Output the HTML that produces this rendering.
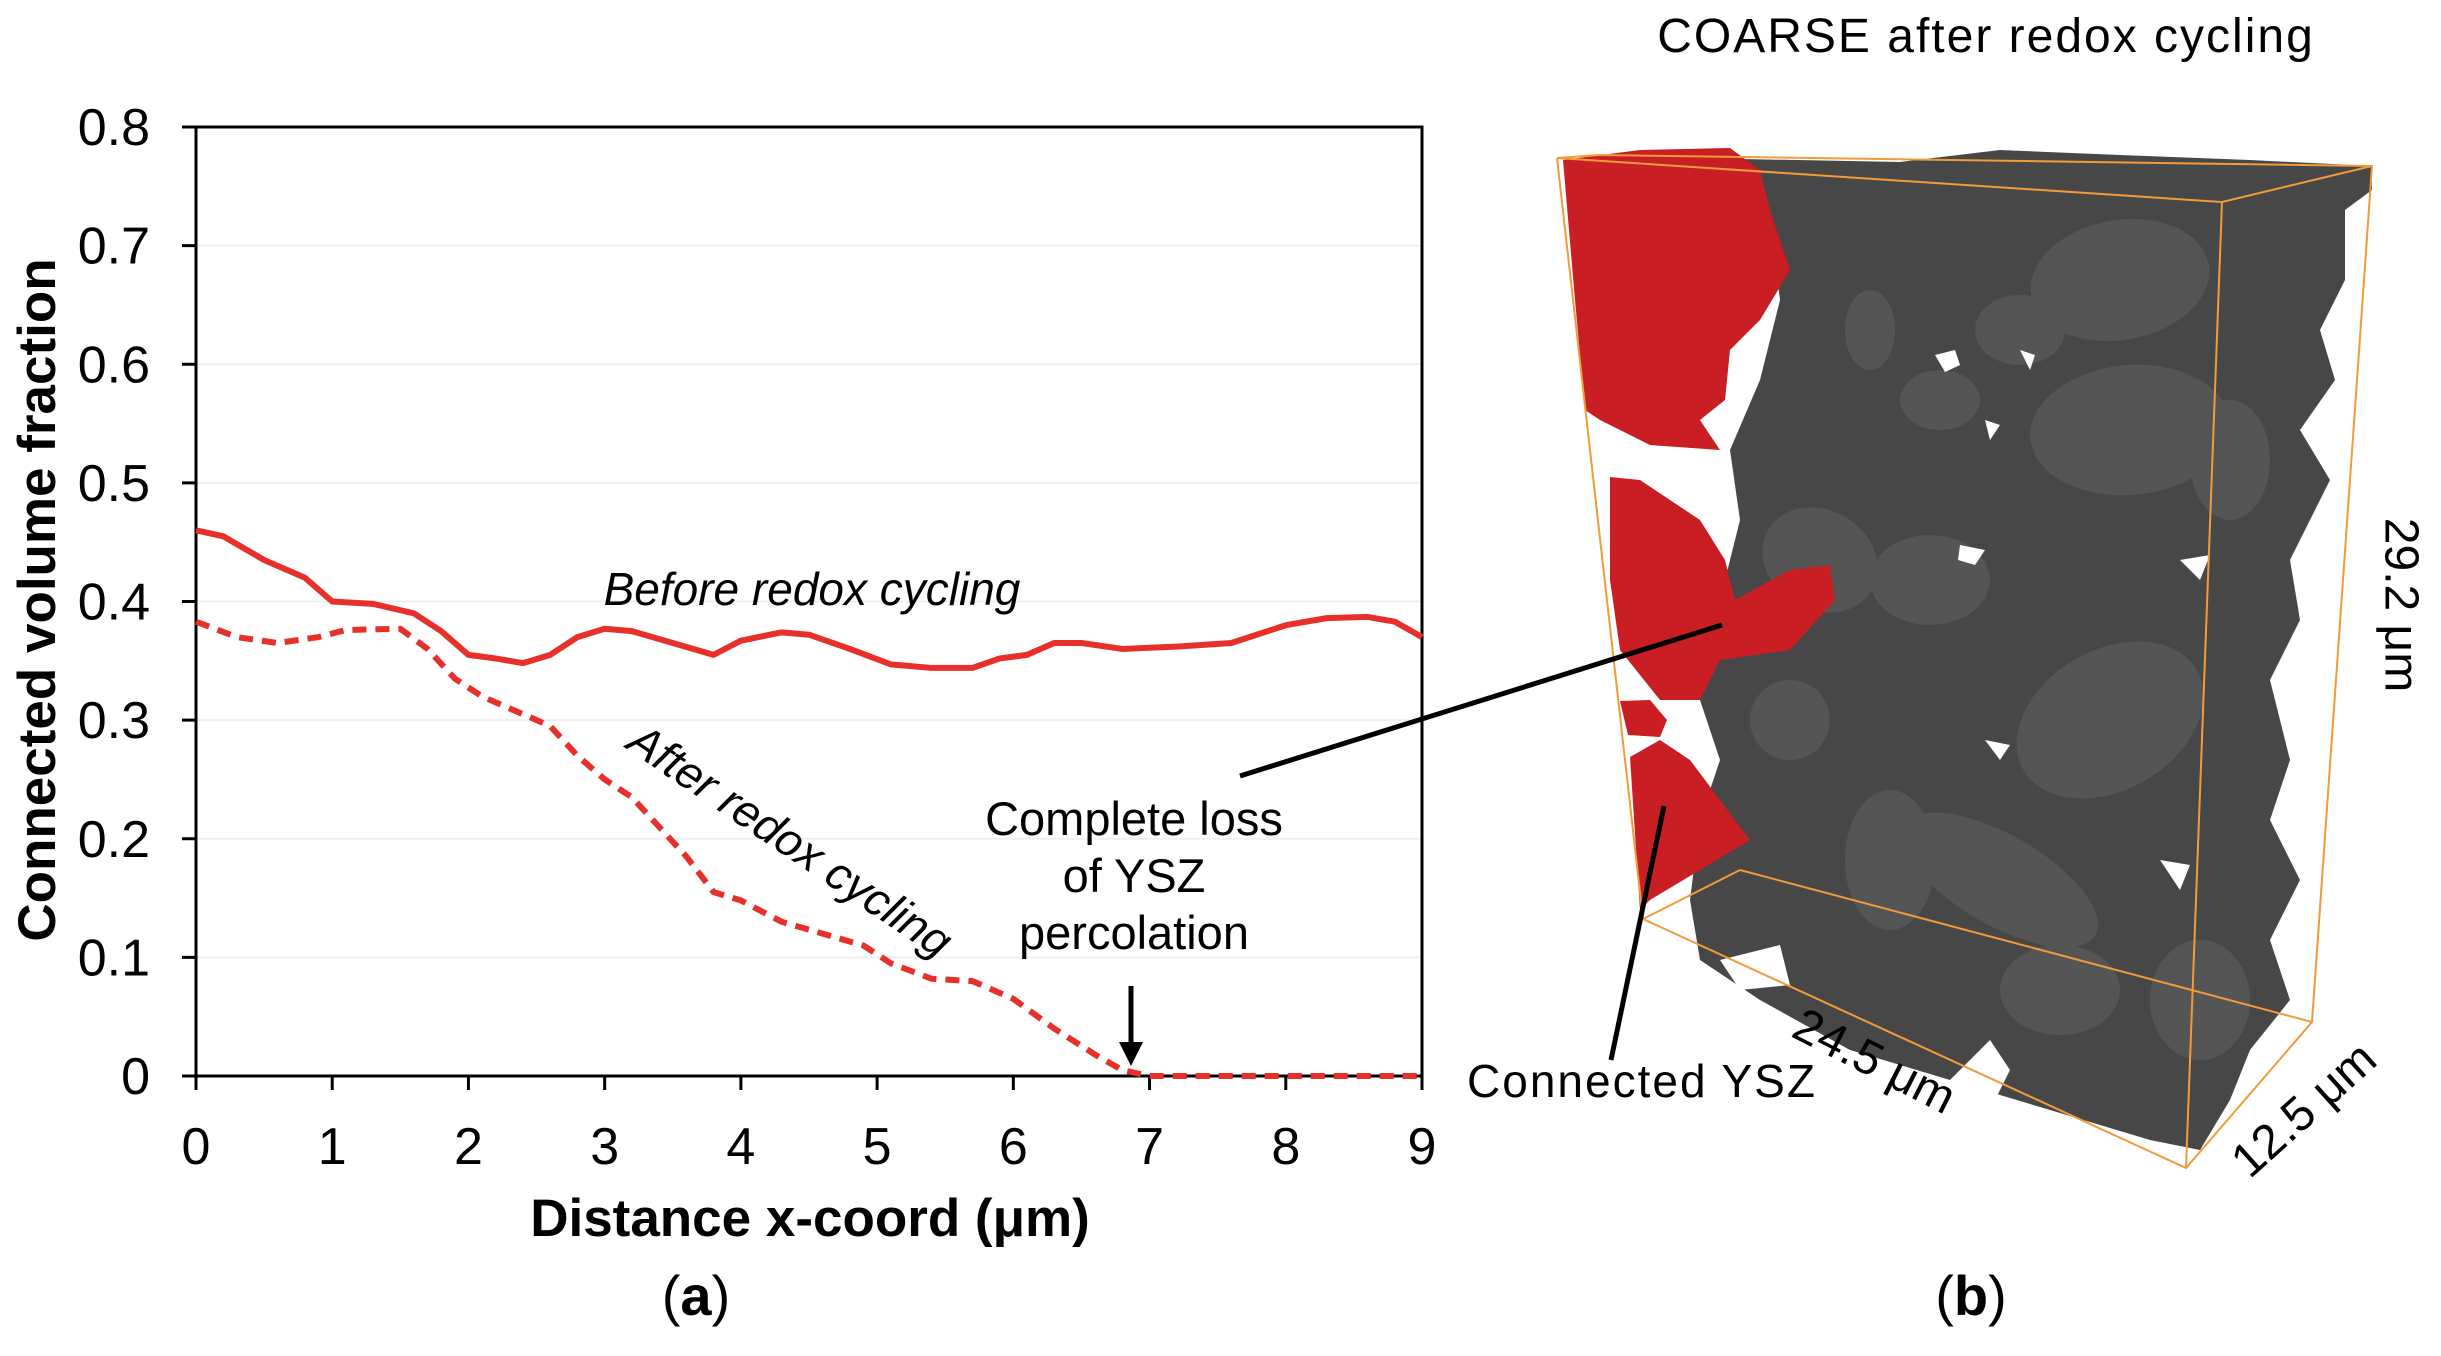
<!DOCTYPE html>
<html><head><meta charset="utf-8"><style>
html,body{margin:0;padding:0;background:#fff;}
svg{display:block;}
text{font-family:"Liberation Sans",sans-serif;}
</style></head><body>
<svg id="fig" width="2441" height="1356" viewBox="0 0 2441 1356" xmlns="http://www.w3.org/2000/svg">
<g id="chart"></g>
<g id="volume">
  <polygon points="1600,160 2372,166 2222,202 1700,180" fill="#3f3f3f"/>
  <polygon fill="#474747" points="1690,158 1900,162 2000,150 2120,155 2250,160 2372,166 2372,190 2345,210 2345,280 2320,330 2335,380 2300,430 2330,480 2290,560 2300,620 2270,680 2290,760 2270,820 2300,880 2270,940 2290,1000 2250,1050 2230,1100 2200,1150 2150,1140 2050,1110 1950,1080 1850,1050 1760,1000 1700,960 1690,900 1700,820 1720,760 1700,700 1720,600 1740,520 1730,450 1760,380 1780,300 1770,220"/>
  <g fill="#555555">
    <ellipse cx="2120" cy="280" rx="90" ry="60" transform="rotate(-10 2120 280)"/>
    <ellipse cx="2130" cy="430" rx="100" ry="65" transform="rotate(-5 2130 430)"/>
    <ellipse cx="2020" cy="330" rx="45" ry="35"/>
    <ellipse cx="1940" cy="400" rx="40" ry="30"/>
    <ellipse cx="1870" cy="330" rx="25" ry="40"/>
    <ellipse cx="1930" cy="580" rx="60" ry="45"/>
    <ellipse cx="1820" cy="560" rx="60" ry="50" transform="rotate(30 1820 560)"/>
    <ellipse cx="2110" cy="720" rx="100" ry="70" transform="rotate(-30 2110 720)"/>
    <ellipse cx="2000" cy="880" rx="110" ry="45" transform="rotate(30 2000 880)"/>
    <ellipse cx="1890" cy="860" rx="45" ry="70"/>
    <ellipse cx="2060" cy="990" rx="60" ry="45"/>
    <ellipse cx="2230" cy="460" rx="40" ry="60"/>
    <ellipse cx="2200" cy="1000" rx="50" ry="60"/>
    <ellipse cx="1790" cy="720" rx="40" ry="40"/>
  </g>
  <g fill="#fff">
    <polygon points="1935,355 1955,350 1960,365 1945,372"/>
    <polygon points="2020,350 2035,355 2030,370"/>
    <polygon points="1985,420 2000,425 1990,440"/>
    <polygon points="1960,545 1985,550 1975,565 1958,560"/>
    <polygon points="2180,560 2210,555 2200,580"/>
    <polygon points="1985,740 2010,745 2000,760"/>
    <polygon points="2160,860 2190,865 2180,890"/>
    <polygon points="2280,700 2330,690 2320,760 2290,740"/>
    <polygon points="2300,560 2345,540 2345,620 2310,600"/>
    <polygon points="1950,1080 1990,1040 2010,1070 1990,1110"/>
    <polygon points="1720,960 1780,945 1790,985 1740,990"/>
  </g>
  <g fill="#c81e24">
    <polygon points="1563,160 1640,150 1730,148 1760,170 1770,210 1790,270 1760,320 1730,350 1725,400 1700,420 1720,450 1650,445 1600,420 1585,410 1575,300"/>
    <polygon points="1610,477 1640,480 1700,520 1725,560 1735,600 1790,570 1830,565 1835,600 1790,650 1720,660 1700,700 1660,700 1620,650 1610,580"/>
    <polygon points="1620,701 1650,700 1667,720 1660,737 1628,735"/>
    <polygon points="1630,757 1660,740 1690,760 1750,840 1700,870 1650,900 1640,910"/>
  </g>
  <g stroke="#f39a3a" stroke-width="2" fill="none">
    <polyline points="1557,158 1600,155 2372,166 2312,1022 2186,1168 1643,919 1557,158"/>
    <polyline points="1557,158 2222,202 2186,1168"/>
    <line x1="2222" y1="202" x2="2372" y2="166"/>
    <line x1="1643" y1="919" x2="1740" y2="870"/>
    <line x1="1740" y1="870" x2="2312" y2="1022"/>
  </g>
  <text x="1986" y="52" font-size="48" text-anchor="middle" letter-spacing="2">COARSE after redox cycling</text>
  <text x="2398" y="605" font-size="48" text-anchor="middle" dominant-baseline="middle" transform="rotate(90 2398 605)">29.2 μm</text>
  <text x="1873" y="1064" font-size="48" text-anchor="middle" dominant-baseline="middle" transform="rotate(27 1873 1064)">24.5 μm</text>
  <text x="2306" y="1112" font-size="48" text-anchor="middle" dominant-baseline="middle" transform="rotate(-42 2306 1112)">12.5 μm</text>
  <text x="1642" y="1097" font-size="46" text-anchor="middle" letter-spacing="2">Connected YSZ</text>
  <line x1="1611" y1="1060" x2="1664" y2="806" stroke="#000" stroke-width="5"/>
  <line x1="1240" y1="776" x2="1722" y2="625" stroke="#000" stroke-width="5"/>
  <text x="1971" y="1315" font-size="56" text-anchor="middle" font-family="Liberation Serif, serif">(<tspan font-weight="bold">b</tspan>)</text>
</g>
</svg>
<script>
const xCats = [0,0.2,0.5,0.8,1.0,1.3,1.6,1.8,2.0,2.2,2.4,2.6,2.8,3.0,3.2,3.5,3.8,4.0,4.3,4.5,4.8,5.1,5.4,5.7,5.9,6.1,6.3,6.5,6.8,7.2,7.6,8.0,8.3,8.6,8.8,9.0];
const beforeVals = [0.46,0.455,0.435,0.42,0.40,0.398,0.39,0.375,0.355,0.352,0.348,0.355,0.37,0.377,0.375,0.365,0.355,0.367,0.374,0.372,0.36,0.347,0.344,0.344,0.352,0.355,0.365,0.365,0.36,0.362,0.365,0.38,0.386,0.387,0.383,0.37];
const afterX = [0,0.3,0.6,0.9,1.1,1.5,1.7,1.9,2.1,2.4,2.6,2.8,3.0,3.2,3.4,3.6,3.8,4.0,4.3,4.6,4.9,5.1,5.4,5.7,6.0,6.3,6.6,6.8,7.0,8.0,9.0];
const afterVals = [0.383,0.37,0.365,0.37,0.376,0.377,0.36,0.335,0.32,0.305,0.295,0.27,0.25,0.235,0.21,0.185,0.155,0.148,0.13,0.12,0.11,0.095,0.082,0.08,0.065,0.04,0.018,0.005,0,0,0];
const xTicks = [0,1,2,3,4,5,6,7,8,9];
const yTicks = [0,0.1,0.2,0.3,0.4,0.5,0.6,0.7,0.8];
const yTickLabels = ["0","0.1","0.2","0.3","0.4","0.5","0.6","0.7","0.8"];

const L=196,R=1422,T=127,B=1076;
const sx=v=>L+(v-0)/9*(R-L);
const sy=v=>B-(v/0.8)*(B-T);
const NS="http://www.w3.org/2000/svg";
const g=document.getElementById('chart');
function mk(tag,attrs,parent){const e=document.createElementNS(NS,tag);for(const k in attrs)e.setAttribute(k,attrs[k]);(parent||g).appendChild(e);return e;}

yTicks.forEach((v,i)=>{
  if(v>0){const gl=mk('line',{x1:L,x2:R,y1:sy(v),y2:sy(v),stroke:'#efefef','stroke-width':2});
  
  }
  const tk=mk('line',{x1:L-14,x2:L,y1:sy(v),y2:sy(v),stroke:'#000','stroke-width':3});
  
  
  const t=mk('text',{x:L-46,y:sy(v)+18,'font-size':52,'text-anchor':'end'});
  t.textContent=yTickLabels[i];
  
  
});
xTicks.forEach(v=>{
  const tk=mk('line',{x1:sx(v),x2:sx(v),y1:B,y2:B+14,stroke:'#000','stroke-width':3});
  
  
  const t=mk('text',{x:sx(v),y:1164,'font-size':52,'text-anchor':'middle'});
  t.textContent=String(v);
  
  
});
const frame=mk('rect',{x:L,y:T,width:R-L,height:B-T,fill:'none',stroke:'#000','stroke-width':3});



const pb=mk('polyline',{points:xCats.map((x,i)=>sx(x)+','+sy(beforeVals[i])).join(' '),fill:'none',stroke:'#e8302b','stroke-width':6,'stroke-linejoin':'round'});


const pa=mk('polyline',{points:afterX.map((x,i)=>sx(x)+','+sy(afterVals[i])).join(' '),fill:'none',stroke:'#e8302b','stroke-width':6,'stroke-dasharray':'14,9'});



const tb=mk('text',{x:812,y:605,'font-size':46,'font-style':'italic','text-anchor':'middle'});
tb.textContent='Before redox cycling';


const ta=mk('text',{x:790,y:856,'font-size':46,'font-style':'italic','text-anchor':'middle',transform:'rotate(34 790 841)'});
ta.textContent='After redox cycling';


['Complete loss','of YSZ','percolation'].forEach((s,i)=>{
  const t=mk('text',{x:1134,y:835+i*57,'font-size':47,'text-anchor':'middle'});
  t.textContent=s;
  
  
});
const ar=mk('line',{x1:1131,y1:986,x2:1131,y2:1050,stroke:'#000','stroke-width':5});


const ah=mk('polygon',{points:'1119,1042 1143,1042 1131,1066',fill:'#000'});



const yt=mk('text',{x:55,y:600,'font-size':53,'font-weight':'bold','text-anchor':'middle',transform:'rotate(-90 55 600)'});
yt.textContent='Connected volume fraction';


const xt=mk('text',{x:810,y:1236,'font-size':53,'font-weight':'bold','text-anchor':'middle'});
xt.textContent='Distance x-coord (μm)';


const pl=mk('text',{x:696,y:1315,'font-size':56,'text-anchor':'middle','font-family':'Liberation Serif, serif'});
pl.innerHTML='(<tspan font-weight="bold">a</tspan>)';


</script>
</body></html>
